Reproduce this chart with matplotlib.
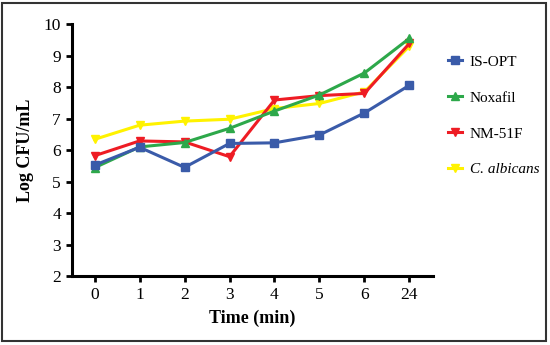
import matplotlib
matplotlib.use("Agg")
import matplotlib.pyplot as plt
from matplotlib.patches import Rectangle

# data
tider = ["0", "1", "2", "3", "4", "5", "6", "24"]
is_opt = [5.52, 6.09, 5.45, 6.21, 6.23, 6.48, 7.18, 8.06]
noxafil = [5.44, 6.10, 6.24, 6.69, 7.24, 7.75, 8.45, 9.55]
nm_51f = [5.82, 6.29, 6.26, 5.79, 7.59, 7.73, 7.80, 9.39]
c_albicans = [6.34, 6.79, 6.92, 6.98, 7.32, 7.48, 7.85, 9.30]

plt.rcParams["font.family"] = ["Liberation Serif", "DejaVu Serif"]

fig = plt.figure(figsize=(5.5, 3.45), dpi=100)
ax = fig.add_axes([0.131, 0.2, 0.656, 0.73])

x = list(range(len(tider)))
ax.plot(x, c_albicans, color="#FFF200", lw=2.2, marker="v", ms=6, label="C. albicans", zorder=2)
ax.plot(x, nm_51f, color="#EE1C24", lw=2.2, marker="v", ms=6, label="NM-51F", zorder=3)
ax.plot(x, noxafil, color="#2DA84A", lw=2.2, marker="^", ms=6, label="Noxafil", zorder=4)
ax.plot(x, is_opt, color="#3A5BA9", lw=2.2, marker="s", ms=5.5, label="IS-OPT", zorder=5)

ax.set_xlim(-0.5, 7.52)
ax.set_ylim(2, 10)
ax.set_xticks(x)
ax.set_xticklabels(tider)
ax.set_yticks(range(2, 11))

for s in ["top", "right"]:
    ax.spines[s].set_visible(False)
for s in ["left", "bottom"]:
    ax.spines[s].set_linewidth(2.2)
ax.tick_params(direction="out", length=4, width=2, labelsize=12.5, pad=4)

ax.set_xlabel("Time (min)", fontsize=13, fontweight="bold", labelpad=5)
ax.set_ylabel("Log CFU/mL", fontsize=13, fontweight="bold", labelpad=7)

# legend in the order of the reference
h, l = ax.get_legend_handles_labels()
order = [3, 2, 1, 0]
leg = fig.legend([h[i] for i in order], [l[i] for i in order], loc="upper left",
                 bbox_to_anchor=(0.79, 0.88), frameon=False, fontsize=11,
                 labelspacing=1.45, handlelength=0.9, handletextpad=0.5)
leg.get_texts()[3].set_fontstyle("italic")

# frame round the whole figure
fig.patches.append(Rectangle((0.004, 0.012), 0.988, 0.978, transform=fig.transFigure,
                             fill=False, edgecolor="#333333", lw=1.5))

fig.savefig("out.png", dpi=100)
